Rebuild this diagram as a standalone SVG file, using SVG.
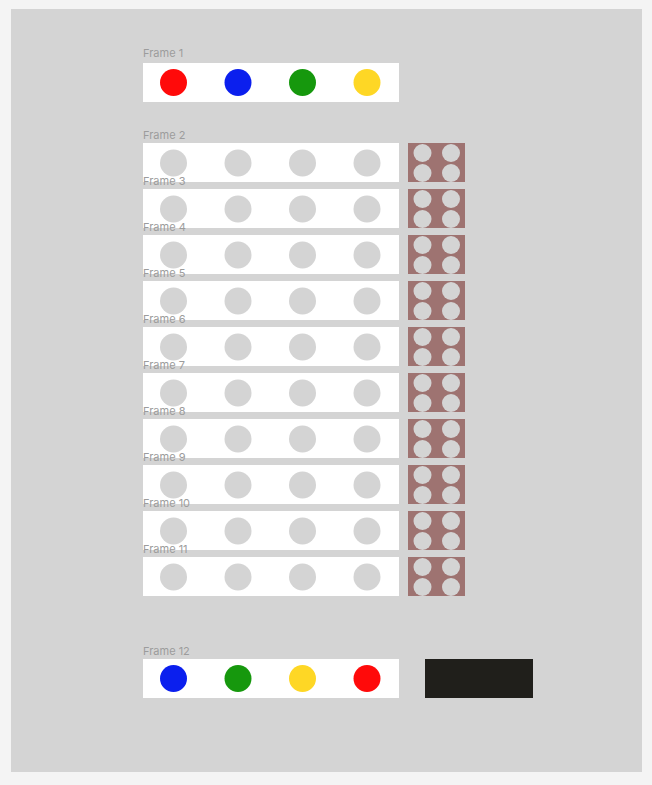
<svg xmlns="http://www.w3.org/2000/svg" width="652" height="785" viewBox="0 0 652 785">
<defs>
<style>
.lbl{font-family:Inter,"Liberation Sans",sans-serif;font-size:11px;fill:#9c9c9c}
.frame{fill:#ffffff}
.dot{fill:#d4d4d4}
.pad{fill:#9e7371}
.r{fill:#ff0a0a}.b{fill:#0b1fee}.g{fill:#16980d}.y{fill:#fed725}
</style>
<g id="row">
<rect class="frame" x="143" y="0" width="256" height="39"/>
<circle class="dot" cx="173.5" cy="20" r="13.5"/>
<circle class="dot" cx="238" cy="20" r="13.5"/>
<circle class="dot" cx="302.5" cy="20" r="13.5"/>
<circle class="dot" cx="367" cy="20" r="13.5"/>
<rect class="pad" x="408" y="0" width="57" height="39"/>
<circle class="dot" cx="422.5" cy="10" r="9"/>
<circle class="dot" cx="451" cy="10" r="9"/>
<circle class="dot" cx="422.5" cy="30" r="9"/>
<circle class="dot" cx="451" cy="30" r="9"/>
</g>
</defs>
<rect x="0" y="0" width="652" height="785" fill="#f4f4f4"/>
<rect x="11" y="9" width="631" height="763" fill="#d4d4d4"/>
<g id="frame1">
<rect class="frame" x="143" y="63" width="256" height="39"/>
<circle class="r" cx="173.5" cy="82.5" r="13.5"/>
<circle class="b" cx="238" cy="82.5" r="13.5"/>
<circle class="g" cx="302.5" cy="82.5" r="13.5"/>
<circle class="y" cx="367" cy="82.5" r="13.5"/>
<text class="lbl" x="143" y="57">Frame 1</text>
</g>
<g id="frame2"><use href="#row" y="143"/></g>
<g id="frame3"><use href="#row" y="189"/></g>
<g id="frame4"><use href="#row" y="235"/></g>
<g id="frame5"><use href="#row" y="281"/></g>
<g id="frame6"><use href="#row" y="327"/></g>
<g id="frame7"><use href="#row" y="373"/></g>
<g id="frame8"><use href="#row" y="419"/></g>
<g id="frame9"><use href="#row" y="465"/></g>
<g id="frame10"><use href="#row" y="511"/></g>
<g id="frame11"><use href="#row" y="557"/></g>
<g id="labels">
<text class="lbl" x="143" y="139">Frame 2</text>
<text class="lbl" x="143" y="185">Frame 3</text>
<text class="lbl" x="143" y="231">Frame 4</text>
<text class="lbl" x="143" y="277">Frame 5</text>
<text class="lbl" x="143" y="323">Frame 6</text>
<text class="lbl" x="143" y="369">Frame 7</text>
<text class="lbl" x="143" y="415">Frame 8</text>
<text class="lbl" x="143" y="461">Frame 9</text>
<text class="lbl" x="143" y="507">Frame 10</text>
<text class="lbl" x="143" y="553">Frame 11</text>
</g>
<g id="frame12">
<rect class="frame" x="143" y="659" width="256" height="39"/>
<circle class="b" cx="173.5" cy="678.5" r="13.5"/>
<circle class="g" cx="238" cy="678.5" r="13.5"/>
<circle class="y" cx="302.5" cy="678.5" r="13.5"/>
<circle class="r" cx="367" cy="678.5" r="13.5"/>
<text class="lbl" x="143" y="655">Frame 12</text>
</g>
<g id="blackbox">
<rect x="425" y="659" width="108" height="39" fill="#201f1b"/>
</g>
<g id="connectors"/>
</svg>
